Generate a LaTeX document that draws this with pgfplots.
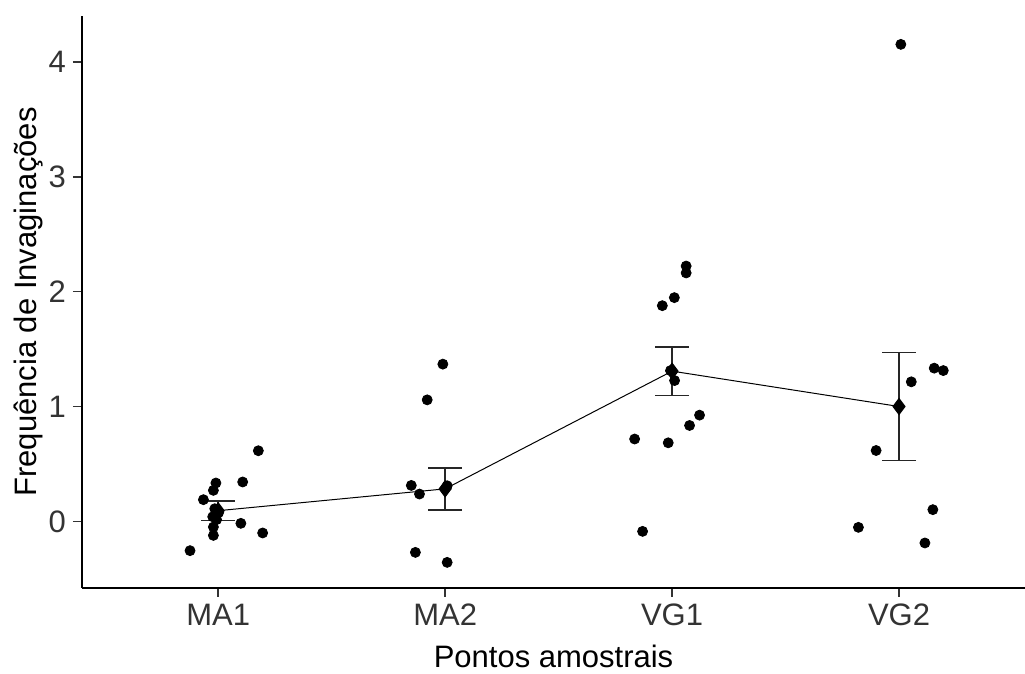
\documentclass[border=0pt]{standalone}
\usepackage{fontspec}
\setmainfont{Liberation Sans}
\usepackage{pgfplots}
\pgfplotsset{compat=1.18}

% jittered observations, one table for each sampling point
\pgfplotstableread{
x y
1.177 0.615
1.108 0.343
0.990 0.334
0.979 0.270
0.935 0.189
0.985 0.110
1.002 0.076
0.976 0.040
0.993 0.015
1.100 -0.017
0.979 -0.049
0.979 -0.122
1.196 -0.101
0.876 -0.255
}\maone
\pgfplotstableread{
x y
1.990 1.369
1.921 1.058
1.851 0.313
1.887 0.238
2.009 0.310
1.869 -0.270
2.009 -0.357
}\matwo
\pgfplotstableread{
x y
3.062 2.223
3.062 2.163
3.010 1.948
2.957 1.878
2.993 1.313
3.011 1.226
3.121 0.925
3.077 0.835
2.835 0.717
2.983 0.684
2.870 -0.087
}\vgone
\pgfplotstableread{
x y
4.008 4.153
4.155 1.334
4.195 1.313
4.054 1.215
3.899 0.617
4.149 0.102
3.821 -0.052
4.114 -0.188
}\vgtwo

\begin{document}
\begin{tikzpicture}
\begin{axis}[
  name=ax,
  scale only axis,
  width=471.5pt, height=286pt,
  xmin=0.4, xmax=4.555, ymin=-0.58, ymax=4.40,
  axis x line*=bottom, axis y line*=left,
  axis line style={-, line width=0.75pt, black},
  xtick={1,2,3,4}, xticklabels={MA1,MA2,VG1,VG2},
  ytick={0,1,2,3,4},
  tick align=outside,
  major tick length=4.5pt,
  tick style={line width=0.75pt, color=black!80},
  ticklabel style={font=\fontsize{15.5}{18}\selectfont, text=black!80},
  /pgf/number format/assume math mode=true,
  xlabel={Pontos amostrais},
  ylabel={Frequência de Invaginações},
  label style={font=\fontsize{15.5}{18}\selectfont, text=black},
  xlabel style={at={(axis description cs:0.5,0)}, anchor=center, yshift=-34.4pt},
  ylabel style={at={(axis description cs:-0.0567,0.5)}, anchor=center},
  clip=false,
]
\addplot[only marks, mark=*, mark size=2.5pt, black] table {\maone};
\addplot[only marks, mark=*, mark size=2.5pt, black] table {\matwo};
\addplot[only marks, mark=*, mark size=2.5pt, black] table {\vgone};
\addplot[only marks, mark=*, mark size=2.5pt, black] table {\vgtwo};
\addplot[black, line width=0.5pt, mark=diamond*, mark size=4pt,
  error bars/.cd, y dir=both, y explicit,
  error bar style={line width=0.8pt, black!85},
  error mark=|,
  error mark options={mark size=8.5pt, line width=0.8pt, black!85}]
  coordinates {
  (1,0.093) +- (0,0.087)
  (2,0.283) +- (0,0.182)
  (3,1.308) +- (0,0.212)
  (4,1.000) +- (0,0.470)
  };
\end{axis}
\pgfresetboundingbox
\path ([xshift=-41pt, yshift=-43pt]ax.south west) rectangle ([yshift=8pt]ax.north east);
\end{tikzpicture}
\end{document}
